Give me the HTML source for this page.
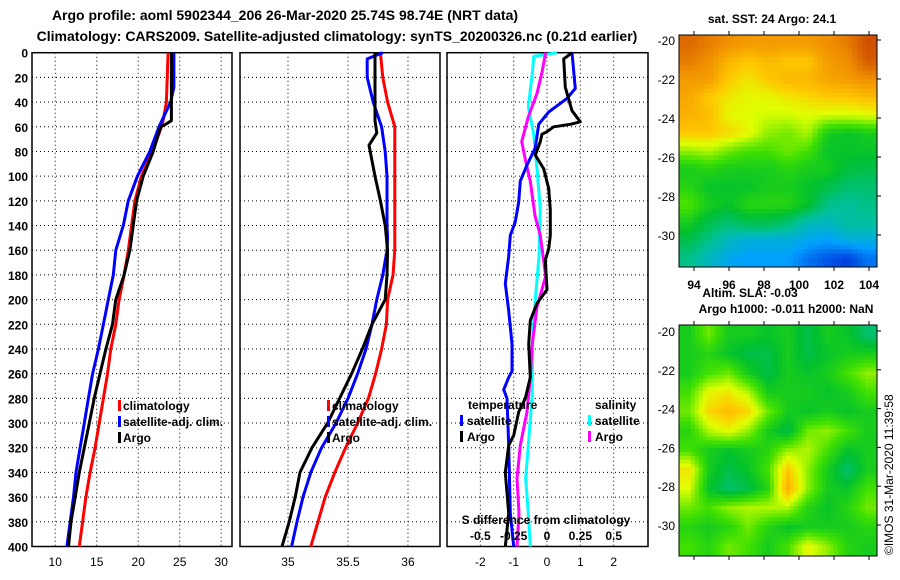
<!DOCTYPE html>
<html><head><meta charset="utf-8"><style>
html,body{margin:0;padding:0;background:#fff;}
svg{display:block;font-family:"Liberation Sans",sans-serif;font-weight:bold;}
</style></head><body>
<svg id="c" width="900" height="580" xmlns="http://www.w3.org/2000/svg">
<text x="285" y="20" font-size="14" text-anchor="middle">Argo profile: aoml 5902344_206 26-Mar-2020 25.74S 98.74E (NRT data)</text>
<text x="337" y="41" font-size="14" text-anchor="middle">Climatology: CARS2009. Satellite-adjusted climatology: synTS_20200326.nc (0.21d earlier)</text>
<text x="772" y="23" font-size="12" text-anchor="middle">sat. SST: 24 Argo: 24.1</text>
<text x="750" y="297" font-size="12" text-anchor="middle">Altim. SLA: -0.03</text>
<text x="786" y="313" font-size="12" text-anchor="middle">Argo h1000: -0.011 h2000: NaN</text>
<text x="0" y="0" font-size="12" font-weight="normal" transform="translate(893,555) rotate(-90)">©IMOS 31-Mar-2020 11:39:58</text>
<g id="g"></g>
</svg>
<script>
// ---- Panel 1: temperature ----
const tClimDepth=[0,40,55,60,80,100,120,140,160,180,200,220,240,260,280,300,320,340,360,380,400];
const tClimVal=[23.6,23.4,23.0,22.8,21.7,20.4,19.6,19.2,18.8,18.3,17.7,17.3,16.7,16.3,15.8,15.3,14.8,14.2,13.7,13.3,12.9];
const tSatDepth=[0,28,40,60,80,100,120,140,160,180,200,220,240,260,280,300,320,340,360,380,400];
const tSatVal=[24.3,24.3,23.9,22.5,21.4,19.9,18.8,18.2,17.3,17.0,16.4,15.8,15.2,14.5,14.0,13.5,13.0,12.5,12.2,11.8,11.4];
const tArgoDepth=[0,55,58,60,80,100,120,140,160,180,200,220,240,260,280,300,320,340,360,380,400];
const tArgoVal=[24.0,24.0,23.3,22.7,21.8,20.6,19.8,19.4,19.0,18.3,17.3,16.9,16.1,15.4,14.7,14.1,13.5,12.9,12.4,11.9,11.6];
// ---- Panel 2: salinity ----
const sClimDepth=[0,20,40,55,60,100,140,160,180,200,220,240,260,280,300,320,340,360,380,400];
const sClimVal=[35.77,35.79,35.83,35.875,35.89,35.89,35.89,35.89,35.875,35.83,35.82,35.78,35.73,35.67,35.58,35.48,35.39,35.31,35.25,35.19];
const sSatDepth=[0,5,20,40,60,80,100,140,150,160,180,200,220,240,260,280,300,320,340,360,380,400];
const sSatVal=[35.79,35.66,35.66,35.71,35.78,35.81,35.825,35.825,35.83,35.825,35.79,35.74,35.70,35.65,35.58,35.50,35.40,35.28,35.19,35.125,35.075,35.03];
const sArgoDepth=[0,55,65,75,100,120,140,160,180,200,220,240,260,280,300,320,340,360,380,400];
const sArgoVal=[35.725,35.725,35.74,35.675,35.725,35.77,35.81,35.83,35.825,35.81,35.70,35.62,35.53,35.43,35.33,35.20,35.10,35.06,35.01,34.95];
// ---- Panel 3: differences ----
const dTSatDepth=[0,29,37,48,58,77,91,104,121,137,148,165,187,209,236,258,263,273,280,318,373,400];
const dTSatVal=[0.75,0.85,0.6,0.05,-0.25,-0.35,-0.6,-0.8,-0.85,-0.95,-1.1,-1.15,-1.25,-1.15,-1.05,-1.05,-1.15,-1.3,-1.2,-1.15,-1.1,-1.0];
const dTArgoDepth=[0,5,28,47,56,58,60,64,66,72,83,94,110,127,148,159,168,192,203,217,236,263,280,291,310,318,340,373,400];
const dTArgoVal=[0.75,0.5,0.55,0.75,1.0,0.7,0.2,0,-0.15,-0.2,-0.35,-0.1,0.05,0.1,0.1,0.05,-0.05,0,-0.3,-0.5,-0.55,-0.5,-0.65,-0.85,-1.0,-1.15,-1.25,-1.15,-1.25];
const dSSatDepth=[0,3,17,44,66,94,127,165,203,236,277,318,345,373,400];
const dSSatVal=[0.075,-0.1,-0.11,-0.14,-0.1,-0.075,-0.05,-0.06,-0.09,-0.11,-0.11,-0.14,-0.16,-0.14,-0.125];
const dSArgoDepth=[0,17,33,52,72,88,104,132,148,181,206,236,263,291,318,345,373,400];
const dSArgoVal=[-0.01,-0.04,-0.075,-0.14,-0.19,-0.16,-0.125,-0.09,-0.05,-0.01,-0.075,-0.11,-0.125,-0.15,-0.2,-0.225,-0.21,-0.225];
// ---- Maps (normalised colour values) ----
const sstGrid=[
[0.88,0.85,0.82,0.8,0.8,0.8,0.8,0.82,0.85,0.92],
[0.85,0.82,0.75,0.72,0.75,0.72,0.72,0.8,0.82,0.9],
[0.8,0.8,0.72,0.68,0.72,0.75,0.75,0.78,0.8,0.82],
[0.78,0.72,0.68,0.66,0.66,0.68,0.7,0.72,0.72,0.74],
[0.76,0.74,0.66,0.65,0.64,0.64,0.65,0.64,0.64,0.65],
[0.72,0.72,0.7,0.66,0.6,0.58,0.62,0.5,0.48,0.5],
[0.6,0.62,0.58,0.55,0.55,0.58,0.55,0.48,0.48,0.48],
[0.5,0.52,0.5,0.5,0.5,0.52,0.5,0.5,0.46,0.45],
[0.52,0.48,0.48,0.48,0.5,0.5,0.48,0.45,0.42,0.42],
[0.56,0.5,0.48,0.52,0.52,0.52,0.48,0.4,0.38,0.4],
[0.5,0.45,0.42,0.45,0.45,0.42,0.36,0.35,0.38,0.38],
[0.45,0.4,0.35,0.32,0.32,0.32,0.3,0.28,0.32,0.32],
[0.4,0.35,0.3,0.28,0.28,0.28,0.22,0.18,0.15,0.22]];
const slaGrid=[
[0.5,0.58,0.5,0.5,0.48,0.5,0.45,0.5,0.48,0.42],
[0.5,0.52,0.48,0.45,0.45,0.5,0.45,0.48,0.5,0.5],
[0.5,0.55,0.58,0.5,0.45,0.5,0.48,0.5,0.55,0.6],
[0.55,0.66,0.68,0.62,0.5,0.5,0.5,0.48,0.5,0.55],
[0.58,0.7,0.74,0.7,0.58,0.5,0.48,0.5,0.48,0.5],
[0.52,0.62,0.66,0.6,0.5,0.45,0.58,0.6,0.55,0.5],
[0.55,0.5,0.48,0.5,0.52,0.6,0.62,0.55,0.48,0.5],
[0.68,0.5,0.45,0.48,0.55,0.72,0.6,0.5,0.42,0.5],
[0.65,0.48,0.42,0.45,0.52,0.76,0.6,0.5,0.48,0.55],
[0.58,0.55,0.6,0.62,0.62,0.62,0.52,0.48,0.52,0.58],
[0.52,0.5,0.52,0.58,0.52,0.48,0.5,0.5,0.5,0.52],
[0.55,0.52,0.58,0.55,0.5,0.55,0.66,0.6,0.52,0.5]];
const depthTicks=[0,20,40,60,80,100,120,140,160,180,200,220,240,260,280,300,320,340,360,380,400];
const tTicks=[10,15,20,25,30];
const sTicks=[35,35.5,36];
const dTicks=[-2,-1,0,1,2];
const dsTicks=[-0.5,-0.25,0,0.25,0.5];
const latTicks=[-20,-22,-24,-26,-28,-30];
const lonTicks=[94,96,98,100,102,104];

const NS='http://www.w3.org/2000/svg';
const G=document.getElementById('g');
function mk(tag,attrs,parent){const e=document.createElementNS(NS,tag);for(const k in attrs)e.setAttribute(k,attrs[k]);(parent||G).appendChild(e);return e;}
const Y0=52.7,Y1=546.5;
const yD=d=>Y0+d/400*(Y1-Y0);
const panels=[
 {x0:32,x1:232,lo:7.2,hi:31.3,ticks:tTicks,name:'temperature-panel'},
 {x0:240,x1:440,lo:34.6,hi:36.267,ticks:sTicks,name:'salinity-panel'},
 {x0:447,x1:648,lo:-3,hi:3.03,ticks:dTicks,name:'difference-panel'}];
panels.forEach((p,i)=>{
 p.sx=v=>p.x0+(v-p.lo)/(p.hi-p.lo)*(p.x1-p.x0);
 const g=mk('g',{});
 
 
 depthTicks.forEach(d=>{
  const l=mk('line',{x1:p.x0,x2:p.x1,y1:yD(d),y2:yD(d),stroke:'#000','stroke-width':1,'stroke-dasharray':'1,3'},g);
  
  
  if(i===0){const t=mk('text',{x:28,y:yD(d)+5,'font-size':12,'text-anchor':'end'},g);t.textContent=d;
   
   }
 });
 p.ticks.forEach(v=>{
  const x=p.sx(v);
  const l=mk('line',{x1:x,x2:x,y1:Y0,y2:Y1,stroke:'#000','stroke-width':1,'stroke-dasharray':'1,3'},g);
  
  
  const t=mk('text',{x:x,y:566,'font-size':12,'text-anchor':'middle','font-weight':'normal'},g);t.textContent=v;
  
  
 });
 const r=mk('rect',{x:p.x0,y:Y0,width:p.x1-p.x0,height:Y1-Y0,fill:'none',stroke:'#000','stroke-width':1.5},g);
 
 
});
function line(depths,vals,sx,color,name){
 const pts=depths.map((d,k)=>sx(vals[k]).toFixed(1)+','+yD(d).toFixed(1)).join(' ');
 const pl=mk('polyline',{points:pts,fill:'none',stroke:color,'stroke-width':3,'stroke-linejoin':'round'});
 
 
}
const P=panels;
line(tClimDepth,tClimVal,P[0].sx,'#f00','temp-climatology-line');
line(tSatDepth,tSatVal,P[0].sx,'#00f','temp-satellite-line');
line(tArgoDepth,tArgoVal,P[0].sx,'#000','temp-argo-line');
line(sClimDepth,sClimVal,P[1].sx,'#f00','sal-climatology-line');
line(sSatDepth,sSatVal,P[1].sx,'#00f','sal-satellite-line');
line(sArgoDepth,sArgoVal,P[1].sx,'#000','sal-argo-line');
const sxS=v=>P[2].sx(v*4);
line(dSSatDepth,dSSatVal,sxS,'#0ff','sdiff-satellite-line');
line(dSArgoDepth,dSArgoVal,sxS,'#f0f','sdiff-argo-line');
line(dTSatDepth,dTSatVal,P[2].sx,'#00f','tdiff-satellite-line');
line(dTArgoDepth,dTArgoVal,P[2].sx,'#000','tdiff-argo-line');
function txt(x,y,s,name,anchor){const t=mk('text',{x:x,y:y,'font-size':12,'text-anchor':anchor||'start'});t.textContent=s;
 
 return t;}
function mark(x,y,c,name){const r=mk('rect',{x:x,y:y-10,width:3,height:11,fill:c});
 
 }
[[118,'climatology-legend'],[327,'climatology-legend-2']].forEach(([x,n])=>{
 mark(x,410,'#f00',n+'-marker');txt(x+5,410,'climatology',n);
 mark(x,426,'#00f',n+'-sat-marker');txt(x+5,426,'satellite-adj. clim.',n+'-sat');
 mark(x,442,'#000',n+'-argo-marker');txt(x+5,442,'Argo',n+'-argo');
});
txt(468,409,'temperature','legend-temperature-heading');
mark(460,425,'#00f','legend-tsat-marker');txt(467,425,'satellite','legend-tsat');
mark(460,441,'#000','legend-targo-marker');txt(467,441,'Argo','legend-targo');
txt(595,409,'salinity','legend-salinity-heading');
mark(588,425,'#0ff','legend-ssat-marker');txt(595,425,'satellite','legend-ssat');
mark(588,441,'#f0f','legend-sargo-marker');txt(595,441,'Argo','legend-sargo');
txt(546,524,'S difference from climatology','sdiff-axis-title','middle');
dsTicks.forEach(v=>txt(sxS(v),540,String(v),'sdiff-tick-label','middle'));
// colormap
const stops=[[0,[0,0,160]],[0.15,[0,64,224]],[0.28,[0,160,255]],[0.38,[0,192,160]],[0.47,[0,192,48]],[0.55,[64,224,0]],[0.65,[224,255,0]],[0.72,[255,200,0]],[0.82,[240,144,0]],[0.92,[208,80,0]],[1,[176,32,0]]];
function cmap(v){for(let i=1;i<stops.length;i++){if(v<=stops[i][0]){const a=stops[i-1],b=stops[i],f=(v-a[0])/(b[0]-a[0]);return 'rgb('+a[1].map((c,k)=>Math.round(c+(b[1][k]-c)*f)).join(',')+')';}}return 'rgb(176,32,0)';}
function sample(grid,fr,fc){
 const R=grid.length-1,C=grid[0].length-1;
 fr=Math.max(0,Math.min(R,fr));fc=Math.max(0,Math.min(C,fc));
 const r0=Math.floor(fr),c0=Math.floor(fc),r1=Math.min(R,r0+1),c1=Math.min(C,c0+1),a=fr-r0,b=fc-c0;
 return grid[r0][c0]*(1-a)*(1-b)+grid[r0][c1]*(1-a)*b+grid[r1][c0]*a*(1-b)+grid[r1][c1]*a*b;
}
function map(grid,x0,y0,x1,y1,lat20,lat30,name,sub){
 const g=mk('g',{});
 
 
 const rows=grid.length,cols=grid[0].length,NR=rows*sub,NC=cols*sub,cw=(x1-x0)/NC,ch=(y1-y0)/NR;
 for(let r=0;r<NR;r++)for(let c=0;c<NC;c++){
  const v=sample(grid,(r+0.5)/sub-0.5,(c+0.5)/sub-0.5);
  const e=mk('rect',{x:(x0+c*cw).toFixed(2),y:(y0+r*ch).toFixed(2),width:(cw+0.5).toFixed(2),height:(ch+0.5).toFixed(2),fill:cmap(v)},g);
  
  
 }
 const fr=mk('rect',{x:x0,y:y0,width:x1-x0,height:y1-y0,fill:'none',stroke:'#000','stroke-width':1},g);
 
 
 latTicks.forEach(l=>{const y=lat20+(l+20)/-10*(lat30-lat20);
  const t=mk('text',{x:x0-4,y:y+5,'font-size':12,'text-anchor':'end','font-weight':'normal'},g);t.textContent=l;
  
  
  mk('line',{x1:x1,x2:x1+4,y1:y,y2:y,stroke:'#000'},g);});
 lonTicks.forEach(l=>{const x=694+(l-94)*17.5;
  mk('line',{x1:x,x2:x,y1:y0-4,y2:y0,stroke:'#000'},g);
  mk('line',{x1:x,x2:x,y1:y1,y2:y1+4,stroke:'#000'},g);});
}
map(sstGrid,679,35,877,267,40,235,'sst-map',4);
map(slaGrid,679,325,877,556,331,525,'sla-map',5);
lonTicks.forEach(l=>txt(694+(l-94)*17.5,289,String(l),'lon-tick-label','middle'));
</script>
</body></html>
